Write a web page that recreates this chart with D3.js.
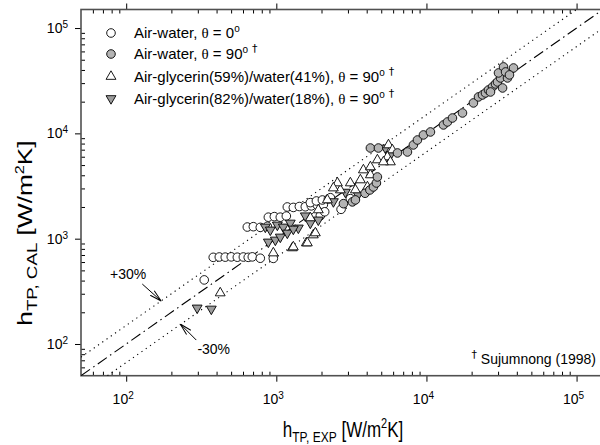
<!DOCTYPE html>
<html>
<head>
<meta charset="utf-8">
<script src="https://cdn.jsdelivr.net/npm/d3@7"></script>
<style>
  body { margin: 0; background: #fff; }
  text { font-family: "Liberation Sans", Arial, sans-serif; fill: #000; }
  .theta { font-family: "Liberation Serif", "DejaVu Serif", serif; }
  .dagger { font-family: "DejaVu Sans", sans-serif; fill: #000; }
</style>
</head>
<body>
<div id="chart"></div>
<script>
// axis range and decade labels
const axisDomain = [50, 150000];
const majorTicks = [100, 1000, 10000, 100000];
const majorExponents = ["2", "3", "4", "5"];

// reference lines (h_CAL = h_EXP and the two band limits)
const identityLine = [[50, 50], [150000, 150000]];
const upperLine = [[50, 75], [100000, 150000]];
const lowerLine = [[75, 50], [150000, 100000]];

// Air-water, theta = 0 deg
const airWater0 = [
  [380, 665], [417, 670], [457, 668], [501, 672], [550, 667], [603, 670], [650, 665],
  [692, 672], [782, 652], [955, 650], [331, 406],
  [641, 1290], [703, 1300], [782, 1280], [871, 1310],
  [885, 1600], [970, 1620], [1063, 1600], [1166, 1640],
  [1184, 2000], [1298, 1980], [1424, 2020], [1560, 2010], [1711, 2050], [1876, 2080], [2057, 2100],
  [1685, 2200], [1849, 2280], [2027, 2330], [2223, 2380], [2291, 2450],
  [1964, 1650], [2100, 1800], [2700, 1900], [3113, 2400]
];

// Air-water, theta = 90 deg (Sujumnong 1998)
const airWater90 = [
  [2800, 2150], [3212, 2234], [3364, 2333], [3900, 2700], [4200, 2900], [4433, 3097],
  [4642, 3380], [4713, 3855], [4233, 7260], [4786, 7260],
  [6412, 6516], [7472, 6657], [8187, 7762], [8710, 8650], [9550, 9660], [10633, 10310],
  [12980, 12020], [13800, 12830], [14900, 13990], [17380, 15620], [20560, 19450],
  [22220, 22180], [23620, 23170], [24720, 24200], [25880, 25820], [27540, 27600],
  [28840, 29450], [29730, 30760], [31141, 33590], [30200, 37480], [32610, 42760],
  [34670, 33590], [38020, 41770], [33650, 38280], [35730, 35890], [32140, 26980], [26710, 24720]
];

// Air-glycerin(59%)/water(41%), theta = 90 deg
const glycerin59 = [
  [423, 305], [955, 731], [1279, 817], [1585, 910], [1765, 1084],
  [1298, 834], [1610, 910], [1820, 1133], [1905, 1875], [1685, 1574], [2188, 2333],
  [2671, 2900], [3113, 3380], [3631, 3610], [4233, 4030], [4045, 3097], [2553, 3380],
  [2399, 3027], [3364, 2900], [3802, 4490], [4233, 4800], [4713, 5590],
  [5585, 7762], [5934, 6950], [5495, 5970], [5754, 5350], [5169, 5350]
];

// Air-glycerin(82%)/water(18%), theta = 90 deg
const glycerin82 = [
  [297, 220], [369, 215],
  [845, 1292], [1016, 1349], [1113, 1292], [1239, 1409], [1402, 1265], [1685, 1409],
  [1905, 1507], [885, 931], [985, 972], [1063, 1038], [1184, 1133], [1298, 1236],
  [912, 1211], [1560, 1650], [2400, 2250], [2884, 2770], [3500, 2600], [5330, 7260], [5754, 6250]
];

const legendLabels = [
  ["Air-water, ", "θ", " = 0", "o", ""],
  ["Air-water, ", "θ", " = 90", "o", "†"],
  ["Air-glycerin(59%)/water(41%), ", "θ", " = 90", "o", "†"],
  ["Air-glycerin(82%)/water(18%), ", "θ", " = 90", "o", "†"]
];

const width = 600, height = 445;
const x = d3.scaleLog().domain(axisDomain).range([81, 603]);
const y = d3.scaleLog().domain(axisDomain).range([375.7, 9.5]);
const frameColor = "#505050";

const svg = d3.select("#chart").append("svg")
  .attr("width", width)
  .attr("height", height)
  .attr("viewBox", [0, 0, width, height]);

const allTicks = x.ticks();
const minorTicks = allTicks.filter(d => majorTicks.indexOf(d) < 0 && d > axisDomain[0]);

function styleAxis(g) {
  g.select(".domain").remove();
  g.selectAll(".tick line").attr("stroke", "#000").attr("stroke-width", 1);
  g.selectAll(".tick text").remove();
}

// ticks: majors outward, minors inward, on all four sides
svg.append("g").attr("transform", `translate(0,${y.range()[0]})`)
  .call(d3.axisBottom(x).tickValues(minorTicks).tickSize(-4).tickSizeOuter(0)).call(styleAxis);
svg.append("g").attr("transform", `translate(0,${y.range()[0]})`)
  .call(d3.axisBottom(x).tickValues(majorTicks).tickSize(6).tickSizeOuter(0)).call(styleAxis);
svg.append("g").attr("transform", `translate(0,${y.range()[1]})`)
  .call(d3.axisTop(x).tickValues(minorTicks).tickSize(-4).tickSizeOuter(0)).call(styleAxis);
svg.append("g").attr("transform", `translate(0,${y.range()[1]})`)
  .call(d3.axisTop(x).tickValues(majorTicks).tickSize(6).tickSizeOuter(0)).call(styleAxis);
svg.append("g").attr("transform", `translate(${x.range()[0]},0)`)
  .call(d3.axisLeft(y).tickValues(minorTicks).tickSize(-4).tickSizeOuter(0)).call(styleAxis);
svg.append("g").attr("transform", `translate(${x.range()[0]},0)`)
  .call(d3.axisLeft(y).tickValues(majorTicks).tickSize(6).tickSizeOuter(0)).call(styleAxis);

// frame
svg.append("rect")
  .attr("x", x.range()[0]).attr("y", y.range()[1])
  .attr("width", x.range()[1] - x.range()[0])
  .attr("height", y.range()[0] - y.range()[1])
  .attr("fill", "none").attr("stroke", frameColor).attr("stroke-width", 1.6);

// tick labels
const xLabels = svg.append("g").selectAll("text").data(majorTicks).join("text")
  .attr("x", d => x(d) - 3).attr("y", 404)
  .attr("text-anchor", "middle").attr("font-size", 14);
xLabels.append("tspan").text("10");
xLabels.append("tspan").attr("dy", -5).attr("font-size", 10).text((d, i) => majorExponents[i]);

const yLabels = svg.append("g").selectAll("text").data(majorTicks).join("text")
  .attr("x", 68).attr("y", d => y(d) + 5)
  .attr("text-anchor", "end").attr("font-size", 14);
yLabels.append("tspan").text("10");
yLabels.append("tspan").attr("dy", -5).attr("font-size", 10).text((d, i) => majorExponents[i]);

// axis titles (the source figure is stretched vertically, so the text is too)
const xTitle = svg.append("text").attr("transform", "translate(343,437) scale(1,1.25)")
  .attr("text-anchor", "middle").attr("font-size", 17);
xTitle.append("tspan").text("h");
xTitle.append("tspan").attr("dy", 4).attr("font-size", 12).text("TP, EXP");
xTitle.append("tspan").attr("dy", -4).text(" [W/m");
xTitle.append("tspan").attr("dy", -7).attr("font-size", 11).text("2");
xTitle.append("tspan").attr("dy", 7).text("K]");

const yTitle = svg.append("text")
  .attr("transform", "translate(32,233) rotate(-90) scale(1.25,1)")
  .attr("text-anchor", "middle").attr("font-size", 21);
yTitle.append("tspan").text("h");
yTitle.append("tspan").attr("dy", 5).attr("font-size", 15).text("TP, CAL");
yTitle.append("tspan").attr("dy", -5).text(" [W/m");
yTitle.append("tspan").attr("dy", -8).attr("font-size", 13).text("2");
yTitle.append("tspan").attr("dy", 8).text("K]");

// reference lines
const line = d3.line().x(d => x(d[0])).y(d => y(d[1]));
const plot = svg.append("g");
plot.append("defs").append("clipPath").attr("id", "clip")
  .append("rect").attr("x", 81).attr("y", 9.5).attr("width", 522).attr("height", 366.2);
const lines = plot.append("g").attr("clip-path", "url(#clip)").attr("fill", "none").attr("stroke", "#000");
lines.append("path").datum(identityLine).attr("d", line)
  .attr("stroke-width", 1.1).attr("stroke-dasharray", "11,4,1.5,4");
lines.append("path").datum(upperLine).attr("d", line)
  .attr("stroke-width", 1.1).attr("stroke-dasharray", "1.2,4");
lines.append("path").datum(lowerLine).attr("d", line)
  .attr("stroke-width", 1.1).attr("stroke-dasharray", "1.2,4");

// markers
const triUp = d3.symbol().type(d3.symbolTriangle).size(42);
function drawMarker(g, kind, cx, cy) {
  if (kind === "open" || kind === "gray") {
    g.append("circle").attr("cx", cx).attr("cy", cy).attr("r", 4.3)
      .attr("fill", kind === "open" ? "#fff" : "#b4b4b4")
      .attr("stroke", "#000").attr("stroke-width", 0.9);
  } else {
    g.append("path").attr("d", triUp())
      .attr("transform", `translate(${cx},${cy})` + (kind === "down" ? " rotate(180)" : ""))
      .attr("fill", kind === "down" ? "#9c9c9c" : "#fff")
      .attr("stroke", "#000").attr("stroke-width", 0.9);
  }
}

const series = [
  {data: airWater0, kind: "open"},
  {data: glycerin82, kind: "down"},
  {data: glycerin59, kind: "up"},
  {data: airWater90, kind: "gray"}
];
const points = plot.append("g").attr("clip-path", "url(#clip)");
series.forEach(s => {
  const g = points.append("g");
  s.data.forEach(d => drawMarker(g, s.kind, x(d[0]), y(d[1])));
});

// legend
const legendKinds = ["open", "gray", "up", "down"];
const legendRows = [33, 54, 76.5, 98.5];
const legend = svg.append("g");
legendLabels.forEach((parts, i) => {
  drawMarker(legend, legendKinds[i], 111, legendRows[i]);
  const t = legend.append("text").attr("x", 134).attr("y", legendRows[i] + 5).attr("font-size", 15);
  t.append("tspan").text(parts[0]);
  t.append("tspan").attr("class", "theta").text(parts[1]);
  t.append("tspan").text(parts[2]);
  t.append("tspan").attr("dy", -6).attr("font-size", 10).text(parts[3]);
  if (parts[4]) t.append("tspan").attr("class", "dagger").attr("dx", 4).attr("dy", -1).attr("font-size", 11).text(parts[4]);
});

// annotations
const defs = svg.append("defs");
defs.append("marker").attr("id", "arrow").attr("viewBox", "0 0 12 8")
  .attr("refX", 12).attr("refY", 4).attr("markerWidth", 12).attr("markerHeight", 8)
  .attr("markerUnits", "userSpaceOnUse").attr("orient", "auto")
  .append("path").attr("d", "M0,1 L12,4 L0,7").attr("fill", "none").attr("stroke", "#000").attr("stroke-width", 1);

svg.append("line")
  .attr("x1", x(128)).attr("y1", y(371)).attr("x2", x(171)).attr("y2", y(256))
  .attr("stroke", "#000").attr("marker-end", "url(#arrow)");
svg.append("text").attr("x", x(78)).attr("y", y(410)).attr("font-size", 14).text("+30%");

svg.append("line")
  .attr("x1", x(293)).attr("y1", y(109)).attr("x2", x(229)).attr("y2", y(155))
  .attr("stroke", "#000").attr("marker-end", "url(#arrow)");
svg.append("text").attr("x", x(298)).attr("y", y(80)).attr("font-size", 14).text("-30%");

const note = svg.append("text").attr("x", 596).attr("y", 364).attr("text-anchor", "end").attr("font-size", 14);
note.append("tspan").attr("class", "dagger").attr("dy", -6).attr("font-size", 11).text("†");
note.append("tspan").attr("dy", 6).text(" Sujumnong (1998)");
</script>
</body>
</html>
